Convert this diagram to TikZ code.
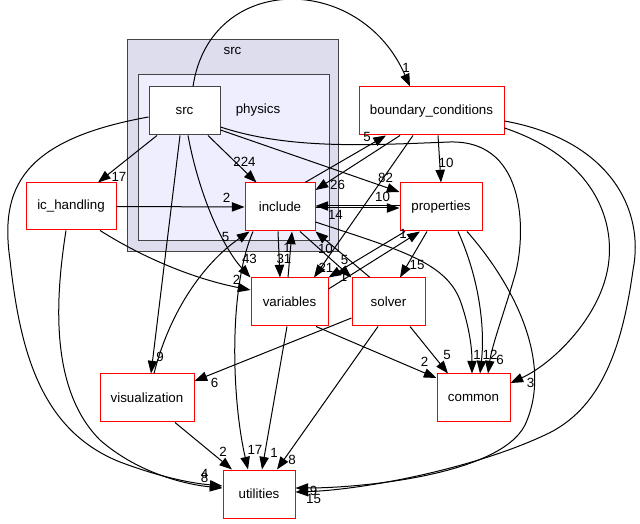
\documentclass[tikz,border=0pt]{standalone}
\usepackage{fontspec}
\setmainfont{Liberation Sans}
\usetikzlibrary{arrows.meta,calc}

\definecolor{outerfill}{HTML}{DDDDEE}
\definecolor{innerfill}{HTML}{EEEEFF}
\definecolor{dirred}{HTML}{FF0000}
\definecolor{framegray}{HTML}{444444}

\begin{document}
\begin{tikzpicture}[
      x=0.75pt,y=-0.75pt,
      line width=0.75pt,
      font=\fontsize{10}{12}\selectfont,
      dep/.style={-{Triangle[length=9.5pt,width=7pt]}},
      lbl/.style={inner sep=0pt},
      cluster/.style={draw=framegray,inner sep=0pt},
      dir/.style={draw=dirred,fill=white,inner sep=0pt,minimum height=36pt}]
    \useasboundingbox (0,0) rectangle (640,524);

    % clusters
    \node [cluster,fill=outerfill,minimum width=158.25pt,minimum height=159pt] (clsrc) at (232.5,146) {};
    \node [cluster,fill=innerfill,minimum width=143.25pt,minimum height=124.5pt] (clphysics) at (233.5,158) {};
    \node (clsrclabel) at (232.5,51) {src};
    \node (clphysicslabel) at (258,110) {physics};

    % directories
    \node [dir,draw=framegray,minimum width=53.25pt] (src) at (184.5,111) {src};
    \node [dir,minimum width=108.75pt] (bc) at (431.5,111) {boundary\_conditions};
    \node [dir,minimum width=52.5pt] (inc) at (280,207) {include};
    \node [dir,minimum width=61.5pt] (prop) at (441,207) {properties};
    \node [dir,minimum width=67.5pt,minimum height=35.25pt] (ich) at (71,206.5) {ic\_handling};
    \node [dir,minimum width=57.75pt] (var) at (289.5,302) {variables};
    \node [dir,minimum width=54.75pt] (sol) at (388.5,302) {solver};
    \node [dir,minimum width=70.5pt] (vis) at (147,398) {visualization};
    \node [dir,minimum width=54.75pt] (com) at (473.5,398) {common};
    \node [dir,minimum width=54pt] (uti) at (259,494) {utilities};

    \path
    ($(src.south)+(23.5,0)$) edge [dep] node [lbl,at end,shift={(-12,-21)}] {224} ($(inc.north west)+(12,0)$)
    ($(src.east)+(0,19)$) edge [dep] node [lbl,at end,shift={(-14,-14)}] {82} ($(prop.west)+(0,-15)$)
    ($(src.south)+(-27.5,0)$) edge [dep] node [lbl,at end,shift={(21,-6)}] {17} ($(ich.north)+(27,0)$)
    ($(src.south)+(-4.5,0)$) edge [dep] node [lbl,at end,shift={(9,-17)}] {9} ($(vis.north)+(4,0)$)
    (ich.east) edge [dep] node [lbl,at end,shift={(-18,-9)}] {2} (inc.west)
    ($(inc.north)+(25,0)$) edge [dep] node [lbl,at end,shift={(-19,1)}] {5} ($(bc.south)+(-45.5,0)$)
    ($(bc.south)+(-31.5,0)$) edge [dep] node [lbl,at end,shift={(22,-5)}] {26} ($(inc.east)+(0,-17)$)
    ($(bc.south)+(6.5,0)$) edge [dep] node [lbl,at end,shift={(5,-20)}] {10} (prop.north)
    ($(bc.south)+(-18.5,0)$) edge [dep] node [lbl,at end,shift={(12,-10)}] {21} ($(var.north)+(24.5,0)$)
    ($(inc.east)+(0,1)$) edge [dep] node [lbl,at end,shift={(-17,-11)}] {10} ($(prop.west)+(0,1)$)
    ($(prop.west)+(0,-1)$) edge [dep] node [lbl,at end,shift={(20,9)}] {14} ($(inc.east)+(0,-1)$)
    ($(inc.south)+(-2,0)$) edge [dep] node [lbl,at end,shift={(4,-19)}] {31} ($(var.north)+(-9.5,0)$)
    ($(var.north)+(-1.5,0)$) edge [dep] node [lbl,at end,shift={(-5,16)}] {1} ($(inc.south)+(12,0)$)
    ($(inc.south)+(20,0)$) edge [dep] node [lbl,at end,shift={(-7,-18)}] {5} (sol.north west)
    ($(sol.north)+(-18.5,0)$) edge [dep] node [lbl,at end,shift={(10,17)}] {10} (inc.south east)
    ($(prop.south)+(-14,0)$) edge [dep] node [lbl,at end,shift={(17,-13)}] {15} ($(sol.north)+(11.5,0)$)
    ($(prop.south)+(-36,0)$) edge [dep] node [lbl,at end,shift={(15,-1)}] {1} (var.north east)
    ($(var.east)+(0,-13)$) edge [dep] node [lbl,at end,shift={(-17,2)}] {1} ($(prop.south)+(-21,0)$)
    ($(var.south)+(26.5,0)$) edge [dep] node [lbl,at end,shift={(-12,-16)}] {2} ($(com.west)+(0,-20)$)
    ($(var.south)+(-2.5,0)$) edge [dep] node [lbl,at end,shift={(12,-17)}] {1} ($(uti.north)+(3,0)$)
    ($(sol.west)+(0,16)$) edge [dep] node [lbl,at end,shift={(20,2)}] {6} ($(vis.east)+(0,-17)$)
    ($(sol.south)+(21.5,0)$) edge [dep] node [lbl,at end,shift={(-1,-19)}] {5} ($(com.north)+(-25.5,0)$)
    ($(sol.south)+(-10.5,0)$) edge [dep] node [lbl,at end,shift={(15,-10)}] {8} ($(uti.north)+(18,0)$)
    ($(vis.south)+(28,0)$) edge [dep] node [lbl,at end,shift={(-9,-18)}] {2} ($(uti.north)+(-27,0)$)
    ;

    % curved dependencies
    \draw [dep] ($(src.north)+(8.5,0)$) .. controls (210,-28) and (360,-28) .. ($(bc.north)+(-21.5,0)$) node [lbl,shift={(-4,-19)}] {1};
    \draw [dep] ($(src.south)+(3.5,0)$) .. controls (200,200) and (225,250) .. (var.north west) node [lbl,shift={(-1,-19)}] {43};
    \draw [dep] ($(src.west)+(0,6)$) .. controls (20,140) and (0,190) .. (10,260)
      .. controls (20,350) and (40,430) .. (120,462)
      .. controls (160,477) and (190,483) .. ($(uti.west)+(0,-8)$) node [lbl,shift={(-18,-12)}] {4};
    \draw [dep] ($(src.east)+(0,16)$) .. controls (290,150) and (370,145) .. (450,142)
      .. controls (530,140) and (525,240) .. (515,275)
      .. controls (505,310) and (492,345) .. ($(com.north)+(14.5,0)$) node [lbl,shift={(12,-14)}] {6};
    \draw [dep] ($(ich.south)+(29,0)$) .. controls (150,262) and (200,280) .. ($(var.west)+(0,-12)$) node [lbl,shift={(-14,-10)}] {2};
    \draw [dep] ($(ich.south)+(-5,0)$) .. controls (55,300) and (50,390) .. (100,440)
      .. controls (140,475) and (190,485) .. ($(uti.west)+(0,-6)$) node [lbl,shift={(-18,-10)}] {8};
    \draw [dep] ($(bc.east)+(0,17)$) .. controls (600,160) and (620,230) .. (605,280)
      .. controls (592,325) and (550,365) .. ($(com.east)+(0,-15)$) node [lbl,shift={(20,0)}] {3};
    \draw [dep] ($(bc.east)+(0,10)$) .. controls (610,140) and (645,210) .. (633,270)
      .. controls (622,350) and (600,410) .. (545,435)
      .. controls (470,470) and (360,490) .. ($(uti.east)+(0,-2)$) node [lbl,shift={(18,7)}] {15};
    \draw [dep] ($(inc.south)+(-27,0)$) .. controls (228,290) and (232,400) .. ($(uti.north)+(-11,0)$) node [lbl,shift={(7,-20)}] {17};
    \draw [dep] ($(inc.east)+(0,15)$) .. controls (400,250) and (445,262) .. (460,300)
      .. controls (468,322) and (472,345) .. ($(com.north)+(-1.5,0)$) node [lbl,shift={(5,-19)}] {1};
    \draw [dep] ($(prop.south)+(17,0)$) .. controls (480,280) and (485,330) .. ($(com.north)+(6.5,0)$) node [lbl,shift={(10,-19)}] {12};
    \draw [dep] ($(prop.south)+(26,0)$) .. controls (510,280) and (555,360) .. (525,425)
      .. controls (500,475) and (360,488) .. ($(uti.east)+(0,-6)$) node [lbl,shift={(18,3)}] {9};
    \draw [dep] ($(vis.north)+(7,0)$) .. controls (170,310) and (205,262) .. ($(inc.south west)+(5,0)$) node [lbl,shift={(-24,5)}] {5};

  \end{tikzpicture}
\end{document}
